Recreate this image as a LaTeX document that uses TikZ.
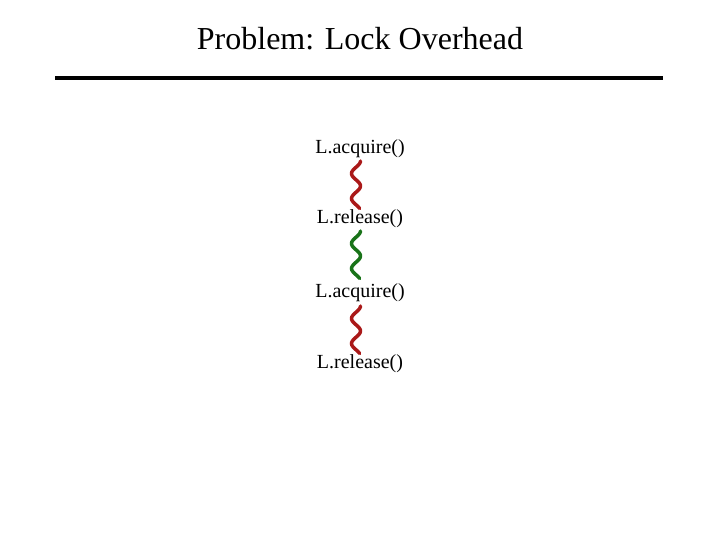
\documentclass[tikz,border=0pt]{standalone}
\usepackage{fontspec}
\setmainfont{Liberation Serif}
\definecolor{sqred}{RGB}{170,25,25}
\definecolor{sqgreen}{RGB}{25,115,25}
\begin{document}
\begin{tikzpicture}[x=1pt,y=-1pt,
  lbl/.style={font=\fontsize{20}{22}\selectfont, inner sep=0pt},
  squig/.style={line width=3.5pt, line cap=round}]
\useasboundingbox (0,0) rectangle (720,540);
\node[font=\fontsize{32}{36}\selectfont] (title) at (360,39) {Problem: Lock Overhead};
\coordinate (ruleL) at (55,78);
\coordinate (ruleR) at (663,78);
\draw[line width=4.5pt] (ruleL) -- (ruleR);
\node[lbl] (a1) at (360,149) {L.acquire()};
\node[lbl] (r1) at (360,219) {L.release()};
\node[lbl] (a2) at (360,293) {L.acquire()};
\node[lbl] (r2) at (360,364) {L.release()};
\foreach \ya/\c in {161/sqred, 231/sqgreen, 306/sqred}{
  \draw[squig,\c] plot[smooth, samples=40, domain=0:0.95]
    ({356+4.5*cos(\x*720)}, {\ya+\x*50});
}
\end{tikzpicture}
\end{document}
